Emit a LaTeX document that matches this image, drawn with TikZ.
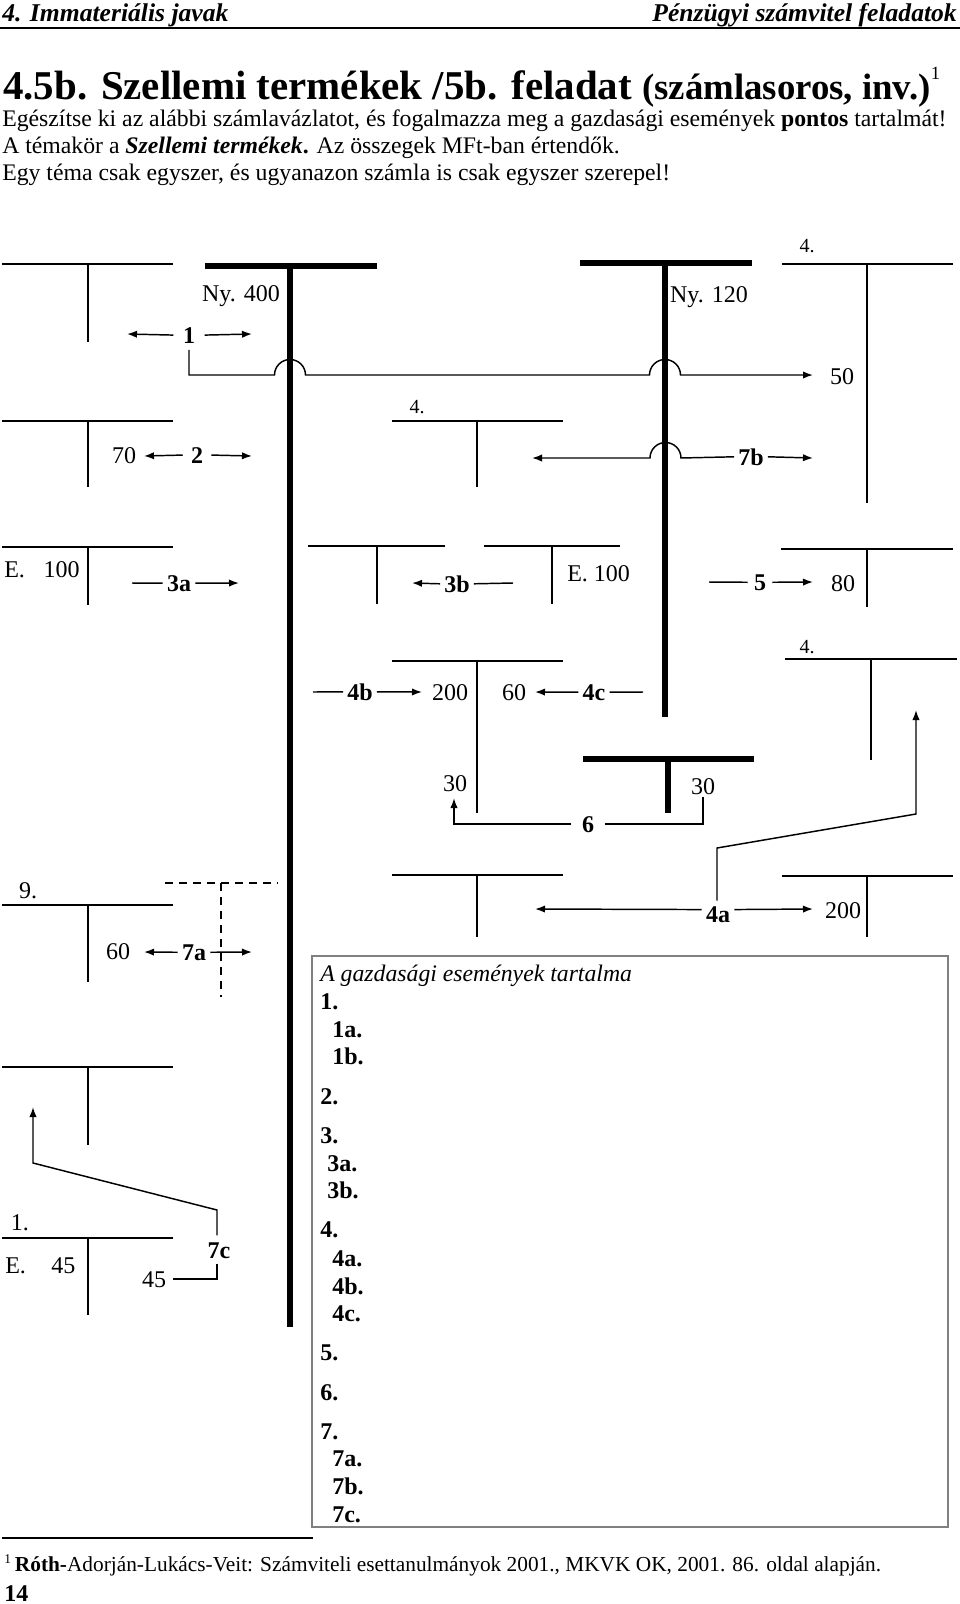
\documentclass[tikz,border=0pt]{standalone}
\usepackage{fontspec}
\setmainfont{Liberation Serif}
\usetikzlibrary{arrows.meta}
\newcommand{\Tacct}[6]{\draw[#1] (#2,#4) -- (#3,#4) (#5,#4) -- (#5,#6);}
\begin{document}
\begin{tikzpicture}[x=0.75pt,y=-0.75pt,
  every node/.style={inner sep=0pt},
  lbl/.style={anchor=base, font=\fontsize{18}{21}\selectfont},
  smlbl/.style={anchor=base, font=\fontsize{15}{18}\selectfont},
  ev/.style={anchor=base, font=\fontsize{18}{21}\selectfont\bfseries, inner xsep=3pt},
  item/.style={anchor=base west, font=\fontsize{18}{21}\selectfont\bfseries},
  tline/.style={line width=1.5pt},
  bline/.style={line width=3.8pt},
  dashT/.style={line width=1.5pt, dash pattern=on 6pt off 4.5pt},
  conn/.style={line width=1.1pt},
  arr/.style={conn, -{Latex[length=7.5pt,width=5.5pt]}},
]
\useasboundingbox (0,0) rectangle (960,1604);

% header
\node[anchor=base west, font=\fontsize{19.2}{22}\selectfont\bfseries\itshape] (hl) at (2,21) {4. Immateriális javak};
\node[anchor=base east, font=\fontsize{19.2}{22}\selectfont\bfseries\itshape] (hr) at (957,21) {Pénzügyi számvitel feladatok};
\draw[line width=2pt] (0,28) -- (960,28);

% title
\node[anchor=base west] (title) at (3,99) {\fontsize{30.7}{34}\selectfont\bfseries 4.5b. Szellemi termékek /5b. feladat \fontsize{27.6}{30}\selectfont(számlasoros, inv.)\raisebox{15pt}{\fontsize{14}{14}\selectfont\mdseries 1}};

% instructions
\node[anchor=base west, font=\fontsize{17.8}{21}\selectfont] (l1) at (2,126) {Egészítse ki az alábbi számlavázlatot, és fogalmazza meg a gazdasági események \textbf{pontos} tartalmát!};
\node[anchor=base west, font=\fontsize{17.8}{21}\selectfont] (l2) at (2,153) {A témakör a \textbf{\textit{Szellemi termékek}.} Az összegek MFt-ban értendők.};
\node[anchor=base west, font=\fontsize{17.8}{21}\selectfont] (l3) at (2,180) {Egy téma csak egyszer, és ugyanazon számla is csak egyszer szerepel!};

% T accounts
\Tacct{tline}{2}{173}{264}{88}{342}
\Tacct{tline}{2}{173}{421}{88}{487}
\Tacct{tline}{392}{563}{421}{477}{487}
\Tacct{tline}{782}{953}{264}{867}{503}
\Tacct{tline}{2}{173}{547}{88}{605}
\Tacct{tline}{308}{445}{546}{377}{604}
\Tacct{tline}{484}{620}{546}{552}{604}
\Tacct{tline}{781}{953}{549}{867}{607}
\Tacct{tline}{392}{563}{661}{477}{813}
\Tacct{tline}{785}{957}{659}{871}{760}
\Tacct{tline}{392}{563}{875}{477}{937}
\Tacct{tline}{782}{953}{876}{867}{937}
\Tacct{tline}{2}{173}{905}{88}{982}
\Tacct{tline}{2}{173}{1067}{88}{1145}
\Tacct{tline}{2}{173}{1238}{88}{1315}
\Tacct{dashT}{165}{278}{883}{221}{997}
\Tacct{bline}{205}{377}{266}{290}{1327}
\Tacct{bline}{580}{752}{263}{665}{717}
\Tacct{bline}{583}{754}{759}{668}{813}

% account labels
\node[lbl] (ny400) at (241,301) {Ny. 400};
\node[lbl] (ny120) at (709,302) {Ny. 120};
\node[smlbl] (k4a) at (417,413) {4.};
\node[smlbl] (k4b) at (807,252) {4.};
\node[smlbl] (k4c) at (807,653) {4.};
\node[lbl] (n50) at (842,384) {50};
\node[lbl] (n70) at (124,463) {70};
\node[lbl,anchor=base west] (e100a) at (4,577) {E.\hspace{14pt}100};
\node[lbl,anchor=base west] (e100b) at (567,581) {E. 100};
\node[lbl] (n80) at (843,591) {80};
\node[lbl] (n200a) at (450,700) {200};
\node[lbl] (n60a) at (514,700) {60};
\node[lbl] (n30a) at (455,791) {30};
\node[lbl] (n30b) at (703,794) {30};
\node[lbl] (k9) at (28,898) {9.};
\node[lbl] (n60b) at (118,959) {60};
\node[lbl] (n200b) at (843,918) {200};
\node[lbl] (k1) at (20,1230) {1.};
\node[lbl,anchor=base west] (e45) at (5,1273) {E.\hspace{19pt}45};
\node[lbl] (n45) at (154,1287) {45};

% event labels
\node[ev, inner xsep=7pt] (e1) at (189,343) {1};
\node[ev, inner xsep=6pt] (e2) at (197,463) {2};
\node[ev] (e7b) at (751,465) {7b};
\node[ev] (e3a) at (179,591) {3a};
\node[ev] (e3b) at (457,592) {3b};
\node[ev, inner xsep=4.5pt] (e5) at (760,590) {5};
\node[ev] (e4b) at (360,700) {4b};
\node[ev] (e4c) at (594,700) {4c};
\node[ev, inner xsep=8pt] (e6) at (588,832) {6};
\node[ev] (e4a) at (718,922) {4a};
\node[ev] (e7a) at (194,960) {7a};
\node[ev] (e7c) at (219,1258) {7c};

% free ends
\coordinate (t1l) at (127,334);
\coordinate (t1r) at (252,334);
\coordinate (t50) at (813,375);
\coordinate (t2l) at (144,456);
\coordinate (t2r) at (252,456);
\coordinate (t7bl) at (532,458);
\coordinate (t7br) at (813,458);
\coordinate (s3a) at (132,583);
\coordinate (t3a) at (239,583);
\coordinate (t3b) at (412,583);
\coordinate (s3b) at (513,583);
\coordinate (s5) at (709,582);
\coordinate (t5) at (813,582);
\coordinate (s4b) at (313,692);
\coordinate (t4b) at (422,692);
\coordinate (t4c) at (535,692);
\coordinate (s4c) at (643,692);
\coordinate (t6) at (454,798);
\coordinate (s6) at (703,797);
\coordinate (t4al) at (535,909);
\coordinate (t4ar) at (813,909);
\coordinate (t4up) at (916,710);
\coordinate (t7al) at (144,952);
\coordinate (t7ar) at (252,952);
\coordinate (t7cup) at (33,1107);
\coordinate (s7c) at (173,1279);

% connectors
\draw[arr] (e1.west) -- (t1l);
\draw[arr] (e1.east) -- (t1r);
\draw[arr] ([yshift=-5pt]e1.south) -- (189,375) -- (274.5,375) arc[start angle=180,end angle=360,radius=15.5] -- (649.5,375) arc[start angle=180,end angle=360,radius=15.5] -- (t50);
\draw[arr] (e2.west) -- (t2l);
\draw[arr] (e2.east) -- (t2r);
\draw[arr] (e7b.west) -- (681,458) arc[start angle=0,end angle=-180,radius=15.5] -- (t7bl);
\draw[arr] (e7b.east) -- (t7br);
\draw[conn] (s3a) -- (e3a.west);
\draw[arr] (e3a.east) -- (t3a);
\draw[arr] (e3b.west) -- (t3b);
\draw[conn] (e3b.east) -- (s3b);
\draw[conn] (s5) -- (e5.west);
\draw[arr] (e5.east) -- (t5);
\draw[conn] (s4b) -- (e4b.west);
\draw[arr] (e4b.east) -- (t4b);
\draw[arr] (e4c.west) -- (t4c);
\draw[conn] (e4c.east) -- (s4c);
\draw[arr] (e6.west) -- (t6 |- e6.west) -- (t6);
\draw[conn] (e6.east) -- (s6 |- e6.east) -- (s6);
\draw[arr] ([yshift=3.5pt]e4a.west) -- (t4al);
\draw[arr] ([yshift=3.5pt]e4a.east) -- (t4ar);
\draw[arr] ([xshift=-0.75pt,yshift=4pt]e4a.north) -- (717,848) -- (916,814) -- (t4up);
\draw[arr] (e7a.west) -- (t7al);
\draw[arr] (e7a.east) -- (t7ar);
\draw[arr] ([xshift=-1.5pt,yshift=5pt]e7c.north) -- (217,1210) -- (33,1163) -- (t7cup);
\draw[conn] ([xshift=-1.5pt,yshift=-4pt]e7c.south) -- (217,1279) -- (s7c);

% answer box
\draw[draw=gray, line width=0.8pt] (312,956) rectangle (948,1527);
\node[anchor=base west, font=\fontsize{17.8}{21}\selectfont\itshape] (bt) at (320,981) {A gazdasági események tartalma};
\node[item] (i1) at (320,1009) {1.};
\node[item] (i1a) at (332,1037) {1a.};
\node[item] (i1b) at (332,1064) {1b.};
\node[item] (i2) at (320,1104) {2.};
\node[item] (i3) at (320,1143) {3.};
\node[item] (i3a) at (327,1171) {3a.};
\node[item] (i3b) at (327,1198) {3b.};
\node[item] (i4) at (320,1237) {4.};
\node[item] (i4a) at (332,1266) {4a.};
\node[item] (i4b) at (332,1294) {4b.};
\node[item] (i4c) at (332,1321) {4c.};
\node[item] (i5) at (320,1360) {5.};
\node[item] (i6) at (320,1400) {6.};
\node[item] (i7) at (320,1439) {7.};
\node[item] (i7a) at (332,1466) {7a.};
\node[item] (i7b) at (332,1494) {7b.};
\node[item] (i7c) at (332,1522) {7c.};

% footnote
\draw[line width=0.8pt] (2,1538) -- (313,1538);
\node[anchor=base west, font=\fontsize{16}{19}\selectfont] (fn) at (4,1571) {\raisebox{6pt}{\fontsize{10}{10}\selectfont 1}\hspace{3pt}\textbf{Róth-}Adorján-Lukács-Veit: Számviteli esettanulmányok 2001., MKVK OK, 2001. 86. oldal alapján.};
\node[anchor=base west, font=\fontsize{18}{21}\selectfont\bfseries] (pg) at (4,1601) {14};
\end{tikzpicture}
\end{document}
